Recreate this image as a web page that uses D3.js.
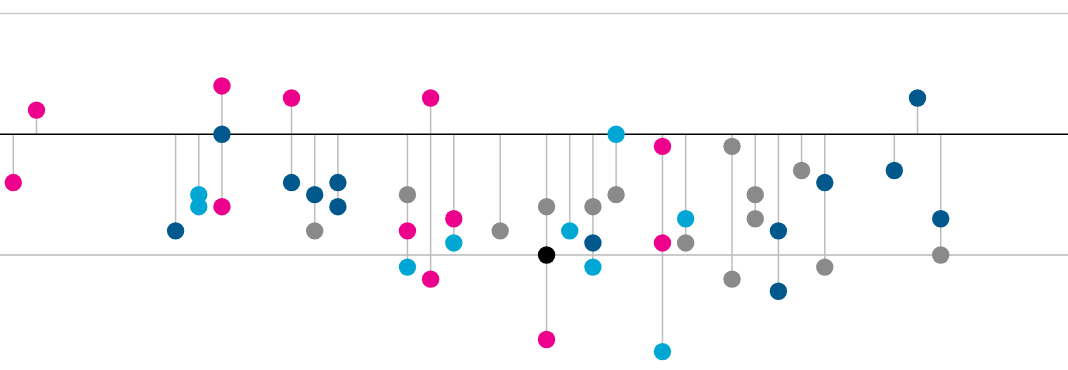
<!DOCTYPE html>
<html>
<head>
<meta charset="utf-8">
<script src="https://cdn.jsdelivr.net/npm/d3@7"></script>
<style>
  html, body { margin: 0; padding: 0; background: #fff; }
  svg { display: block; }
</style>
</head>
<body>
<svg id="chart" width="1068" height="370"></svg>
<script>
// Column slots (0..40) and grid values
const slots = d3.range(0, 41);
const gridValues = [1, -1];
const baselineValue = 0;

// Series: [column, value]
const pinkPoints = [[0,-0.4],[1,0.2],[9,0.4],[9,-0.6],[12,0.3],[17,-0.8],[18,0.3],[18,-1.2],[19,-0.7],[23,-1.7],[28,-0.1],[28,-0.9]];
const navyPoints = [[7,-0.8],[9,0],[12,-0.4],[13,-0.5],[14,-0.4],[14,-0.6],[25,-0.9],[33,-0.8],[33,-1.3],[35,-0.4],[38,-0.3],[39,0.3],[40,-0.7]];
const cyanPoints = [[8,-0.5],[8,-0.6],[17,-1.1],[19,-0.9],[24,-0.8],[25,-1.1],[26,0],[28,-1.8],[29,-0.7]];
const grayPoints = [[13,-0.8],[17,-0.5],[21,-0.8],[23,-0.6],[25,-0.6],[26,-0.5],[29,-0.9],[31,-0.1],[31,-1.2],[32,-0.5],[32,-0.7],[34,-0.3],[35,-1.1],[40,-1.0]];
const blackPoints = [[23,-1.0]];

const seriesList = [
  {name: "gray", color: "#8a8a8a", pts: grayPoints},
  {name: "pink", color: "#ec008c", pts: pinkPoints},
  {name: "cyan", color: "#00a7d4", pts: cyanPoints},
  {name: "navy", color: "#00588c", pts: navyPoints},
  {name: "black", color: "#000000", pts: blackPoints}
];

const W = 1068, H = 370;
const svg = d3.select("#chart");

const x = d3.scaleLinear().domain([0, 40]).range([13.3, 940.7]);
const y = d3.scaleLinear().domain([-1, 1]).range([255, 13.5]);

// grid lines
svg.append("g").selectAll("line").data(gridValues).join("line")
  .attr("x1", 0).attr("x2", W)
  .attr("y1", d => y(d)).attr("y2", d => y(d))
  .attr("stroke", d => d > 0 ? "#c8c8c8" : "#b8b8b8")
  .attr("stroke-width", 1.5);

// stems per column: from 0 to min and max
const all = seriesList.flatMap(s => s.pts.map(p => ({col: p[0], v: p[1], color: s.color})));
const byCol = d3.rollups(all, v => [Math.min(0, d3.min(v, d => d.v)), Math.max(0, d3.max(v, d => d.v))], d => d.col);

svg.append("g").selectAll("line").data(byCol).join("line")
  .attr("x1", d => x(d[0])).attr("x2", d => x(d[0]))
  .attr("y1", d => y(d[1][0])).attr("y2", d => y(d[1][1]))
  .attr("stroke", "#bdbdbd")
  .attr("stroke-width", 1.5);

// baseline
svg.append("line")
  .attr("x1", 0).attr("x2", W)
  .attr("y1", y(baselineValue)).attr("y2", y(baselineValue))
  .attr("stroke", "#000").attr("stroke-width", 1.5);

// dots
svg.append("g").selectAll("circle").data(all).join("circle")
  .attr("cx", d => x(d.col))
  .attr("cy", d => y(d.v))
  .attr("r", 8.7)
  .attr("fill", d => d.color);
</script>
</body>
</html>
